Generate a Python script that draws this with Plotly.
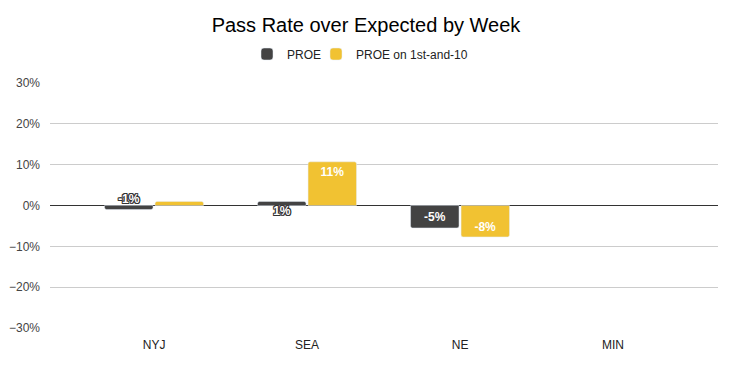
import plotly.graph_objects as go

weeks = ["NYJ", "SEA", "NE", "MIN"]
proe = [-0.01, 0.01, -0.055, None]
proe_1st10 = [0.01, 0.107, -0.077, None]
proe_labels = ["-1%", "1%", "-5%", ""]
proe_1st10_labels = ["", "11%", "-8%", ""]
y_ticks = [-0.3, -0.2, -0.1, 0, 0.1, 0.2, 0.3]

FONT = "Arial, Liberation Sans, sans-serif"
outline = ("1px 0 0 #333, -1px 0 0 #333, 0 1px 0 #333, 0 -1px 0 #333, "
           "1px 1px 0 #333, -1px -1px 0 #333, 1px -1px 0 #333, -1px 1px 0 #333")
SMALL = 0.02  # bars too short to hold a label get it across the zero line


def split_labels(values, labels):
    inside, across_y, across_t, across_pos = [], [], [], []
    for v, lab in zip(values, labels):
        small = v is not None and abs(v) < SMALL
        inside.append("" if small else lab)
        across_y.append(0 if small and lab else None)
        across_t.append(lab if small else "")
        across_pos.append("top center" if (v or 0) < 0 else "bottom center")
    return inside, across_y, across_t, across_pos


fig = go.Figure()
series = [
    ("PROE", proe, proe_labels, "#434343", "middle", "legend", "g1"),
    ("PROE on 1st-and-10", proe_1st10, proe_1st10_labels, "#F1C232", "end", "legend2", "g2"),
]
for name, vals, labs, color, anchor, leg, grp in series:
    inside, ay, at, apos = split_labels(vals, labs)
    fig.add_trace(go.Bar(
        x=weeks, y=vals, name=name, marker_color=color, legend=leg,
        offsetgroup=grp,
        text=inside, textposition="inside", insidetextanchor=anchor,
        insidetextfont=dict(color="white", size=12, family=FONT, weight="bold"),
        constraintext="none", cliponaxis=False, hoverinfo="x+y",
    ))
for name, vals, labs, color, anchor, leg, grp in series:
    inside, ay, at, apos = split_labels(vals, labs)
    fig.add_trace(go.Scatter(
        x=weeks, y=ay, mode="text", text=at, textposition=apos,
        orientation="v", offsetgroup=grp,
        textfont=dict(color="white", size=12, family=FONT, weight="bold", shadow=outline),
        showlegend=False, cliponaxis=False, hoverinfo="skip",
    ))

legend_font = dict(size=12, color="#222")
fig.update_layout(
    width=732, height=365,
    margin=dict(l=50, r=14, t=83, b=37, autoexpand=False),
    paper_bgcolor="white", plot_bgcolor="white",
    font=dict(family=FONT, size=12, color="#444"),
    title=dict(text="Pass Rate over Expected by Week", x=0.5, xref="container",
               y=1 - 25 / 365, yref="container", yanchor="middle",
               font=dict(size=20, color="#000")),
    legend=dict(orientation="h", x=247 / 732, xref="container", xanchor="left",
                y=1 - 54 / 365, yref="container", yanchor="middle", font=legend_font,
                bgcolor="rgba(0,0,0,0)"),
    legend2=dict(orientation="h", x=316 / 732, xref="container", xanchor="left",
                 y=1 - 54 / 365, yref="container", yanchor="middle", font=legend_font,
                 bgcolor="rgba(0,0,0,0)"),
    barmode="group", bargap=0.34, bargroupgap=0.04, barcornerradius=2,
    scattermode="group", scattergap=0.34,
    showlegend=True,
)
fig.update_xaxes(range=[-0.68, 3.686], showgrid=False, showline=False, ticks="",
                 tickfont=dict(size=12, color="#222"), ticklabelstandoff=8)
fig.update_yaxes(range=[-0.3, 0.3], tickvals=y_ticks, tickformat=".0%",
                 gridcolor="#cccccc", gridwidth=1, zeroline=True, zerolinecolor="#333",
                 zerolinewidth=1, ticks="", tickfont=dict(size=12, color="#444"),
                 ticklabelstandoff=9)

fig.write_html("out.html", config={"displayModeBar": False},
               post_script="document.body.style.margin='0';")
